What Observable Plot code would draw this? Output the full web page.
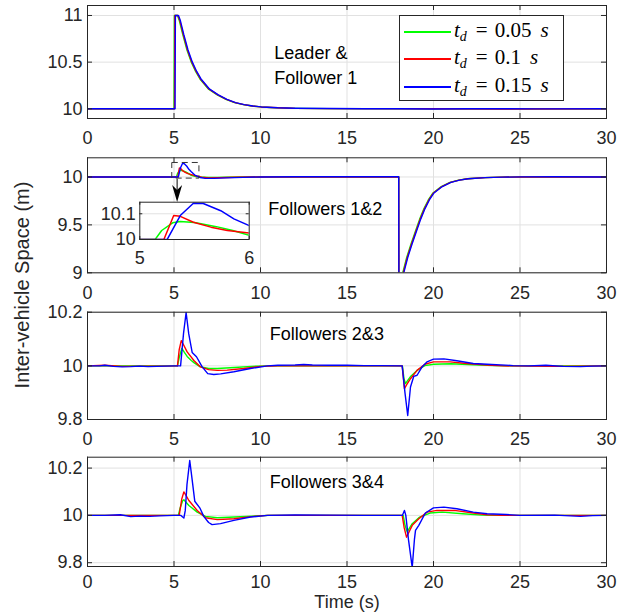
<!DOCTYPE html>
<html>
<head>
<meta charset="utf-8">
<script src="https://cdn.jsdelivr.net/npm/d3@7"></script>
<script src="https://cdn.jsdelivr.net/npm/@observablehq/plot@0.6"></script>
<style>
  html, body { margin: 0; padding: 0; background: white; }
  #chart { position: relative; width: 624px; height: 616px; overflow: hidden; font-family: "Liberation Sans", Arial, sans-serif; }
  #chart svg { position: absolute; left: 0; }
  .ylab { position: absolute; left: 22px; top: 285px; transform: translate(-50%, -50%) rotate(-90deg); white-space: nowrap; font-size: 20px; color: #262626; }
  .legend { position: absolute; left: 399px; top: 15px; width: 165px; height: 86px; border: 1px solid #262626; background: white; box-sizing: border-box; }
  .legend .row { position: absolute; left: 0; height: 24px; width: 165px; }
  .legend .sw { position: absolute; left: 4px; top: 11px; width: 47px; height: 2px; }
  .legend .txt { position: absolute; left: 54px; top: -2px; font-family: "Liberation Serif", "DejaVu Serif", serif; font-size: 21px; color: #000; white-space: nowrap; }
  .legend .txt sub { font-size: 14px; font-style: italic; vertical-align: -4px; }
</style>
</head>
<body>
<div id="chart"></div>
<script>
// ---------------- data ----------------
const xTicks = [0, 5, 10, 15, 20, 25, 30];
const seriesColors = ["#00ff00", "#ff0000", "#0000ff"];
const legendValues = ["0.05", "0.1", "0.15"];
const xTitle = "Time (s)";
const yTitle = "Inter-vehicle Space (m)";

// Panel 1: Leader & Follower 1
const p1Ticks = [10, 10.5, 11];
const p1Text = ["Leader &\nFollower 1"];
const p1Green = [[0,10],[5.0,10],[5.02,11],[5.2,11],[5.3,10.95],[5.5,10.8],[5.75,10.63],[6.0,10.5],[6.25,10.4],[6.5,10.32],[7.0,10.21],[7.5,10.15],[8.0,10.1],[8.5,10.066],[9.0,10.045],[9.5,10.03],[10,10.02],[11,10.01],[12,10.005],[14,10.002],[20,10.0],[30,10.0]];
const p1Red   = [[0,10],[5.03,10],[5.05,11],[5.23,11],[5.33,10.95],[5.53,10.8],[5.78,10.63],[6.03,10.5],[6.28,10.4],[6.53,10.32],[7.03,10.21],[7.53,10.15],[8.03,10.1],[8.53,10.066],[9.03,10.045],[9.53,10.03],[10.03,10.02],[11,10.011],[12,10.005],[14,10.002],[21,10.0],[24,9.998],[30,10.0]];
const p1Blue  = [[0,10],[5.06,10],[5.08,11],[5.26,11],[5.36,10.95],[5.56,10.8],[5.81,10.63],[6.06,10.5],[6.31,10.4],[6.56,10.32],[7.06,10.21],[7.56,10.15],[8.06,10.1],[8.56,10.066],[9.06,10.045],[9.56,10.03],[10.06,10.02],[11,10.011],[12,10.006],[14,10.003],[16,10.001],[18,10.0],[20,9.998],[22,10.001],[26,9.999],[30,10.0]];

// Panel 2: Followers 1&2
const p2Ticks = [9, 9.5, 10];
const p2Text = ["Followers 1&2"];
const p2Green = [[0,10],[5.14,10],[5.2,10.035],[5.3,10.065],[5.37,10.07],[5.5,10.066],[5.7,10.05],[5.85,10.035],[6.0,10.016],[6.2,10.008],[6.5,10.0],[7.0,9.995],[7.5,9.996],[8.0,9.998],[9.0,10.0],[17.99,10.0],[18.0,8.8],[18.15,8.95],[18.25,9.02],[18.45,9.16],[18.7,9.3],[18.95,9.43],[19.2,9.56],[19.45,9.67],[19.7,9.76],[19.95,9.83],[20.45,9.9],[20.95,9.943],[21.45,9.967],[21.95,9.982],[22.95,9.993],[23.95,9.998],[25.0,10.0],[30,10.0]];
const p2Red   = [[0,10],[5.22,10],[5.31,10.093],[5.37,10.09],[5.49,10.067],[5.65,10.048],[5.8,10.035],[6.0,10.025],[6.3,10.01],[6.6,9.998],[7.0,9.99],[7.6,9.992],[8.5,9.997],[9.5,10.0],[17.99,10.0],[18.0,8.8],[18.18,8.95],[18.28,9.02],[18.48,9.16],[18.73,9.3],[18.98,9.43],[19.23,9.56],[19.48,9.67],[19.73,9.76],[19.98,9.83],[20.48,9.9],[20.98,9.943],[21.48,9.967],[21.98,9.982],[22.98,9.993],[23.98,9.998],[25.0,10.0],[30,10.0]];
const p2Blue  = [[0,10],[5.25,10],[5.37,10.093],[5.49,10.141],[5.58,10.14],[5.74,10.112],[5.86,10.08],[6.0,10.054],[6.2,10.02],[6.5,9.995],[6.8,9.985],[7.3,9.985],[8.0,9.99],[9.0,9.996],[10.0,10.0],[12,10.002],[15,10.002],[17.99,10.002],[18.0,8.8],[18.21,8.95],[18.31,9.02],[18.51,9.16],[18.76,9.3],[19.01,9.43],[19.26,9.56],[19.51,9.67],[19.76,9.76],[20.01,9.83],[20.51,9.9],[21.01,9.943],[21.51,9.967],[22.01,9.982],[23.01,9.993],[24.01,9.998],[25.1,10.001],[27,10.002],[30,10.0]];
// zoom box and arrow annotation (data units of panel 2)
const p2Box = [{x1: 4.9, x2: 6.47, y1: 9.983, y2: 10.146}];
const p2Arrow = [{x: 5.18, y1: 9.975, y2: 9.80, tip: 9.738}];

// Inset of panel 2
const insetXTicks = [5, 6];
const insetYTicks = [10, 10.1];

// Panel 3: Followers 2&3
const p3Ticks = [9.8, 10, 10.2];
const p3Text = ["Followers 2&3"];
const p3Green = [[0,10],[2,10.0],[5.2,10.0],[5.3,10.03],[5.45,10.065],[5.6,10.05],[5.76,10.035],[6.0,10.02],[6.15,10.012],[6.5,9.997],[7.0,9.99],[7.5,9.99],[8.5,9.994],[9.5,9.998],[10.5,10.0],[18.2,10.0],[18.3,9.95],[18.38,9.934],[18.5,9.945],[18.67,9.96],[19.05,9.983],[19.5,10.001],[20.0,10.006],[21.0,10.008],[22.3,10.004],[23.5,10.001],[25,10.0],[30,10.0]];
const p3Red   = [[0,10],[1,10.002],[2,9.998],[5.2,10.0],[5.3,10.06],[5.42,10.094],[5.5,10.085],[5.76,10.052],[6.15,10.02],[6.53,9.996],[7.0,9.986],[7.5,9.983],[8.07,9.984],[9.03,9.99],[10.0,9.998],[11,10.0],[18.19,10.0],[18.32,9.915],[18.45,9.93],[18.67,9.952],[19.05,9.983],[19.5,10.006],[20.0,10.015],[20.96,10.015],[21.9,10.009],[23.1,10.003],[24,10.0],[27,9.998],[30,10.0]];
const p3Blue  = [[0,10],[0.7,10.0],[1,10.002],[1.5,9.998],[2,9.996],[2.5,9.997],[3,9.999],[3.5,9.997],[4,9.998],[4.5,9.999],[5.0,10.0],[5.38,10.0],[5.55,10.12],[5.7,10.199],[5.85,10.12],[6.05,10.05],[6.3,10.034],[6.63,9.996],[6.95,9.971],[7.3,9.968],[7.7,9.97],[8.46,9.978],[9.42,9.99],[10.4,10.0],[11,10.002],[12,10.003],[12.5,10.005],[13,10.003],[14,10.002],[15,10.002],[16,10.001],[17,10.001],[18.19,10.0],[18.35,9.9],[18.51,9.815],[18.67,9.921],[18.86,9.961],[19.05,9.965],[19.34,9.996],[19.63,10.015],[20.0,10.025],[20.6,10.026],[21.35,10.019],[22.3,10.009],[23.1,10.006],[24.6,10.001],[25.5,10.0],[26.5,10.002],[27.5,9.998],[28.5,9.997],[29.2,9.999],[30,10.0]];

// Panel 4: Followers 3&4
const p4Ticks = [9.8, 10, 10.2];
const p4Text = ["Followers 3&4"];
const p4Green = [[0,10],[5.25,10.0],[5.35,10.03],[5.5,10.062],[5.57,10.066],[5.86,10.042],[6.34,10.014],[6.82,9.996],[7.5,9.99],[8.5,9.993],[9.5,9.997],[10.5,10.0],[18.25,10.0],[18.35,9.96],[18.48,9.93],[18.77,9.965],[19.2,9.993],[19.8,10.01],[20.5,10.014],[21.7,10.007],[22.8,10.001],[24,10.0],[30,10.0]];
const p4Red   = [[0,10],[5.3,10.0],[5.45,10.07],[5.57,10.099],[5.65,10.09],[5.86,10.063],[6.34,10.021],[6.82,9.99],[7.5,9.982],[8.46,9.986],[9.61,9.996],[10.4,10.0],[18.19,10.0],[18.3,9.95],[18.44,9.908],[18.77,9.958],[19.15,9.986],[19.63,10.014],[20.2,10.021],[21.2,10.021],[22.3,10.01],[23.1,10.003],[24,10.0],[30,10.0]];
const p4Blue  = [[0,10],[1,10.0],[1.9,10.003],[2.5,9.995],[3,9.997],[3.6,9.996],[4.2,9.998],[5,10.0],[5.4,10.0],[5.5,9.993],[5.57,9.989],[5.65,10.02],[5.75,10.13],[5.91,10.232],[6.05,10.15],[6.2,10.06],[6.49,10.032],[6.72,9.996],[7.0,9.97],[7.2,9.961],[7.69,9.965],[8.46,9.979],[9.42,9.993],[10.4,10.0],[12,10.002],[14,10.001],[16,10.0],[18.2,10.0],[18.32,10.021],[18.4,10.0],[18.55,9.9],[18.77,9.78],[18.9,9.9],[18.96,9.937],[19.15,9.958],[19.53,10.01],[20.0,10.032],[20.6,10.035],[21.35,10.028],[22.3,10.014],[23.1,10.007],[24.2,10.004],[25,10.0],[27,10.001],[28.5,9.996],[29.2,9.999],[30,10.0]];

// ---------------- drawing ----------------
const W = 624, ML = 87, MR = 18;
const innerW = W - ML - MR;
const axisColor = "#262626";
const gridColor = "#e1e1e1";
const fmt = d => String(d);
const chart = document.getElementById("chart");

function lineMarks(series, extra = {}) {
  return series.map((s, i) => Plot.line(s, {x: d => d[0], y: d => d[1], stroke: seriesColors[i], strokeWidth: 1.4, clip: true, ...extra}));
}

function panel({top, mt, inner, mb, domain, yTicks, series, labels, labelPos, extraMarks = [], bottomText = null, xPad = 13}) {
  const height = mt + inner + mb;
  const marks = [
    Plot.ruleX(xTicks, {x: d => d, stroke: gridColor, strokeWidth: 1}),
    Plot.ruleY(yTicks, {y: d => d, stroke: gridColor, strokeWidth: 1}),
    ...lineMarks(series),
    Plot.frame({stroke: axisColor, strokeWidth: 1}),
    Plot.ruleX(xTicks, {x: d => d, insetTop: inner - 5, stroke: axisColor}),
    Plot.ruleX(xTicks, {x: d => d, insetBottom: inner - 5, stroke: axisColor}),
    Plot.ruleY(yTicks, {y: d => d, insetLeft: innerW - 5, stroke: axisColor}),
    Plot.ruleY(yTicks, {y: d => d, insetRight: innerW - 5, stroke: axisColor}),
    Plot.text(labels, {x: labelPos[0], y: labelPos[1], text: d => d, textAnchor: "start", fontSize: 18, fill: "#000", lineHeight: 1.39}),
    ...extraMarks
  ];
  if (bottomText) marks.push(Plot.text([bottomText], {frameAnchor: "bottom", text: d => d, dy: 41, fontSize: 18, fill: axisColor}));
  const svg = Plot.plot({
    width: W, height,
    marginLeft: ML, marginRight: MR, marginTop: mt, marginBottom: mb,
    style: {fontFamily: "Liberation Sans, Arial, sans-serif", fontSize: "18px", color: axisColor, background: "transparent", overflow: "visible"},
    x: {domain: [0, 30], ticks: xTicks, tickFormat: fmt, tickSize: 0, tickPadding: xPad, label: null},
    y: {domain, ticks: yTicks, tickFormat: fmt, tickSize: 0, tickPadding: 5, label: null},
    marks
  });
  svg.style.top = top + "px";
  chart.appendChild(svg);
  return svg;
}

// Panel 1
panel({top: 0, mt: 5, inner: 113, mb: 30, domain: [9.896, 11.107], yTicks: p1Ticks,
  series: [p1Green, p1Red, p1Blue], labels: p1Text, labelPos: [10.8, 10.49]});

// Panel 2 with zoom box + arrow
const arrowHead = {draw(ctx) { ctx.moveTo(0, 0); ctx.lineTo(-5, -17); ctx.lineTo(0, -12); ctx.lineTo(5, -17); ctx.closePath(); }};
panel({top: 148, mt: 9.3, inner: 115, mb: 30, domain: [9, 10.2], yTicks: p2Ticks,
  series: [p2Green, p2Red, p2Blue], labels: p2Text, labelPos: [10.45, 9.686],
  extraMarks: [
    Plot.rect(p2Box, {x1: "x1", x2: "x2", y1: "y1", y2: "y2", fill: "none", stroke: "#333", strokeWidth: 1, strokeDasharray: "6,4"}),
    Plot.ruleX(p2Arrow, {x: "x", y1: "y1", y2: "y2", stroke: "#000", strokeWidth: 1}),
    Plot.dot(p2Arrow, {x: "x", y: "tip", symbol: arrowHead, fill: "#000", stroke: "none", r: 5})
  ]});

// Panel 3
panel({top: 303, mt: 8.7, inner: 107.3, mb: 30, domain: [9.8, 10.2], yTicks: p3Ticks,
  series: [p3Green, p3Red, p3Blue], labels: p3Text, labelPos: [10.54, 10.125]});

// Panel 4
panel({top: 449, mt: 7.7, inner: 109.3, mb: 50, domain: [9.784, 10.246], yTicks: p4Ticks,
  series: [p4Green, p4Red, p4Blue], labels: p4Text, labelPos: [10.54, 10.148], bottomText: xTitle, xPad: 9});

// Inset
(function () {
  const mt = 11.7, inner = 37.3, mb = 30, mL = 139.3, mR = 11.3, w = 260;
  const iw = w - mL - mR;
  const svg = Plot.plot({
    width: w, height: mt + inner + mb,
    marginLeft: mL, marginRight: mR, marginTop: mt, marginBottom: mb,
    style: {fontFamily: "Liberation Sans, Arial, sans-serif", fontSize: "18px", color: axisColor, background: "transparent", overflow: "visible"},
    x: {domain: [5, 6], ticks: insetXTicks, tickFormat: fmt, tickSize: 0, tickPadding: 12, label: null},
    y: {domain: [10, 10.145], ticks: insetYTicks, tickFormat: fmt, tickSize: 0, tickPadding: 4, label: null},
    marks: [
      Plot.frame({fill: "white", stroke: "none"}),
      Plot.ruleY(insetYTicks, {y: d => d, stroke: gridColor}),
      ...lineMarks([p2Green, p2Red, p2Blue], {strokeWidth: 1.5}),
      Plot.frame({stroke: axisColor, strokeWidth: 1}),
      Plot.ruleY(insetYTicks, {y: d => d, insetLeft: iw - 3, stroke: axisColor}),
      Plot.ruleY(insetYTicks, {y: d => d, insetRight: iw - 3, stroke: axisColor}),
      Plot.ruleX(insetXTicks, {x: d => d, insetTop: inner - 3, stroke: axisColor}),
      Plot.ruleX(insetXTicks, {x: d => d, insetBottom: inner - 3, stroke: axisColor})
    ]
  });
  svg.style.top = (201.7 - mt) + "px";
  chart.appendChild(svg);
})();

// Y title
const yl = document.createElement("div");
yl.className = "ylab";
yl.textContent = yTitle;
chart.appendChild(yl);

// Legend
const lg = document.createElement("div");
lg.className = "legend";
const rowTops = [4, 31, 59];
legendValues.forEach((v, i) => {
  const row = document.createElement("div");
  row.className = "row";
  row.style.top = rowTops[i] + "px";
  row.innerHTML = `<div class="sw" style="background:${seriesColors[i]}"></div>` +
    `<div class="txt"><i>t</i><sub>d</sub><span style="margin:0 7px 0 9px">=</span>${v}<i style="margin-left:9px">s</i></div>`;
  lg.appendChild(row);
});
chart.appendChild(lg);
</script>
</body>
</html>
